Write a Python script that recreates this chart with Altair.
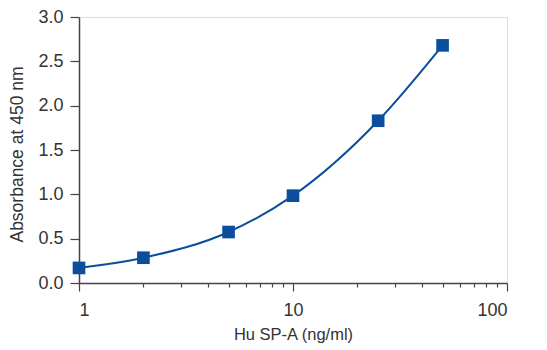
import altair as alt
import pandas as pd

conc = [1, 2, 5, 10, 25, 50]
absorbance = [0.17, 0.285, 0.575, 0.985, 1.83, 2.68]

x_ticks = [1, 2, 3, 4, 5, 6, 7, 8, 9, 10, 20, 30, 40, 50, 60, 70, 80, 90, 100]
x_labeled = [1, 10, 100]
y_ticks = [0, 0.5, 1.0, 1.5, 2.0, 2.5, 3.0]

df = pd.DataFrame({"conc": conc, "abs": absorbance})

FONT = "Liberation Sans"
BLUE = "#0b4f9c"
AX = "#444444"
TXT = "#333333"

is_major = " || ".join(f"datum.value == {v}" for v in x_labeled)

xscale = alt.Scale(type="log", domain=[1, 100], nice=False)
yscale = alt.Scale(domain=[0, 3], nice=False)

xaxis = alt.Axis(
    values=x_ticks,
    labelExpr=f"({is_major}) ? format(datum.value,'d') : ''",
    tickSize={"condition": {"test": is_major, "value": 8}, "value": 4},
    tickColor=AX, domainColor=AX, domainWidth=1.5, tickWidth=1.2,
    labelFont=FONT, labelFontSize=18, labelColor=TXT, labelPadding=10,
    title="Hu SP-A (ng/ml)", titleFont=FONT, titleFontSize=16.5, titleFontWeight="normal",
    titleColor=TXT, titlePadding=7, grid=False,
    labelOverlap=False,
)
yaxis = alt.Axis(
    values=y_ticks, format=".1f",
    tickSize=9, tickColor=AX, domainColor=AX, domainWidth=1.5, tickWidth=1.2,
    labelFont=FONT, labelFontSize=18, labelColor=TXT, labelPadding=7,
    title="Absorbance at 450 nm", titleFont=FONT, titleFontSize=17.5, titleFontWeight="normal",
    titleColor=TXT, titleBaseline="middle", titleX=-62, titleY=137, grid=False,
)

base = alt.Chart(df)

line = base.mark_line(color=BLUE, strokeWidth=2, interpolate="monotone").encode(
    x=alt.X("conc:Q", scale=xscale, axis=xaxis),
    y=alt.Y("abs:Q", scale=yscale, axis=yaxis),
)
pts = base.mark_square(color=BLUE, size=160, opacity=1).encode(
    x=alt.X("conc:Q", scale=xscale),
    y=alt.Y("abs:Q", scale=yscale),
)

chart = alt.layer(line, pts).properties(
    width=428, height=266,
    autosize=alt.AutoSizeParams(type="none"),
    padding={"left": 71, "top": 9, "right": 25, "bottom": 66},
).configure_view(stroke=None).configure(background="white")

chart.save("out.html", embed_options={"renderer": "svg", "actions": False})
